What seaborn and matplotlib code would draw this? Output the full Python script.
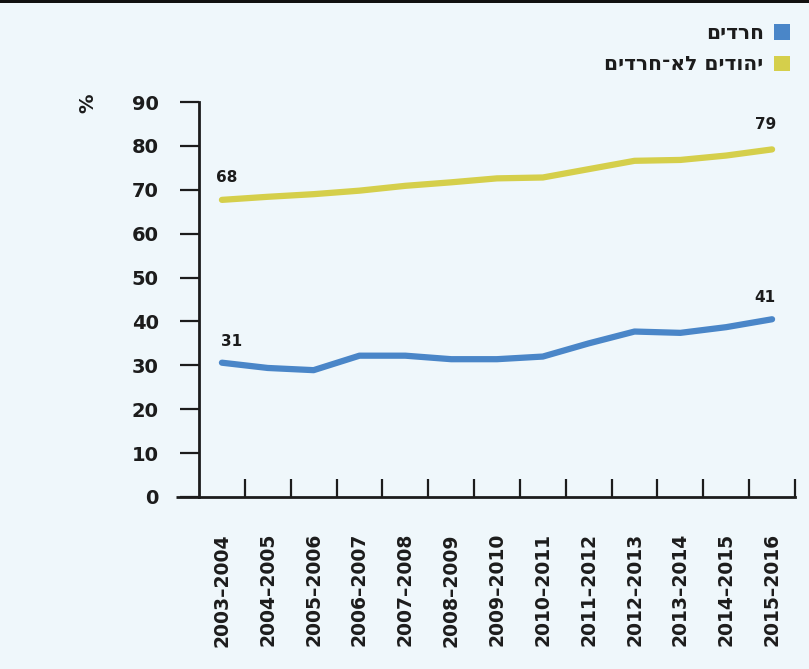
import pandas as pd
import seaborn as sns
import matplotlib.pyplot as plt
from matplotlib.patches import Patch, Rectangle

# school years (x categories)
years = ['2003–2004', '2004–2005', '2005–2006', '2006–2007', '2007–2008',
         '2008–2009', '2009–2010', '2010–2011', '2011–2012', '2012–2013',
         '2013–2014', '2014–2015', '2015–2016']

# series values (%)
haredi = [30.6, 29.4, 28.9, 32.2, 32.2, 31.4, 31.4, 32.0, 35.0, 37.7, 37.4, 38.7, 40.5]
non_haredi = [67.7, 68.4, 69.0, 69.8, 70.9, 71.7, 72.6, 72.8, 74.7, 76.6, 76.8, 77.8, 79.2]

series_names = ['חרדים', 'יהודים לא־חרדים']
colors = ['#4a86c8', '#d5cf4b']

# labels shown at the first and last points
first_labels = ['31', '68']
last_labels = ['41', '79']

yticks = [0, 10, 20, 30, 40, 50, 60, 70, 80, 90]


def vis(s):
    # matplotlib has no bidi, so Hebrew is drawn in visual order
    return s[::-1]


df = pd.concat([
    pd.DataFrame({'idx': range(len(years)), 'value': haredi, 'group': series_names[0]}),
    pd.DataFrame({'idx': range(len(years)), 'value': non_haredi, 'group': series_names[1]}),
])

sns.set_style('ticks')
plt.rcParams['font.family'] = ['DejaVu Sans', 'Noto Sans']
bg = '#eff7fb'
ink = '#1c1c1c'

fig = plt.figure(figsize=(8.09, 6.69), dpi=100, facecolor=bg)
ax = fig.add_axes([199 / 809, 172 / 669, 596 / 809, 395 / 669])
ax.set_facecolor(bg)

sns.lineplot(data=df, x='idx', y='value', hue='group', palette=colors,
             linewidth=4.5, solid_capstyle='round', legend=False, ax=ax)

ax.set_xlim(-0.5, len(years) - 0.5)
ax.set_ylim(0, 90)
ax.set_xlabel('')
ax.set_ylabel('')

# y axis
ax.set_yticks(yticks)
ax.set_yticklabels([str(t) for t in yticks], fontsize=14, fontweight='bold', color=ink)
ax.tick_params(axis='y', direction='out', length=14, width=1.6, pad=15, color=ink)

# x axis: labels at centers, ticks at category boundaries
ax.set_xticks(range(len(years)))
ax.set_xticklabels(years, rotation=90, fontsize=13.5, fontweight='bold', color=ink)
ax.tick_params(axis='x', which='major', length=0, pad=26)
ax.set_xticks([i + 0.5 for i in range(len(years))], minor=True)
ax.tick_params(axis='x', which='minor', direction='in', length=13, width=1.6, color=ink)

sns.despine(ax=ax, top=True, right=True)
for side in ['left', 'bottom']:
    ax.spines[side].set_linewidth(2)
    ax.spines[side].set_color(ink)
# bottom axis runs a little to the left of the y axis
ax.plot([-0.039, 0], [0, 0], transform=ax.transAxes, color=ink, lw=2,
        clip_on=False, solid_capstyle='butt')

# point labels
first_off = [(7, 10), (3.5, 10.5)]
last_off = [(-5, 10.5), (-5, 12.5)]
for vals, lab0, lab1, o0, o1 in zip([haredi, non_haredi], first_labels, last_labels,
                                    first_off, last_off):
    ax.annotate(lab0, (0, vals[0]), xytext=o0, textcoords='offset points',
                ha='center', va='bottom', fontsize=11, fontweight='bold', color=ink)
    ax.annotate(lab1, (len(years) - 1, vals[-1]), xytext=o1, textcoords='offset points',
                ha='center', va='bottom', fontsize=11, fontweight='bold', color=ink)

# percent sign
fig.text(88 / 809, 1 - 103 / 669, '%', rotation=90, ha='center', va='center',
         fontsize=14, fontweight='bold', color=ink)

# legend (marker on the right, text right-aligned)
handles = [Patch(facecolor=c, edgecolor='none') for c in colors]
fig.legend(handles, [vis(n) for n in series_names], loc='upper right',
           bbox_to_anchor=(808 / 809, 1 - 6 / 669), markerfirst=False, frameon=False,
           prop={'size': 14.5, 'weight': 'bold'}, handlelength=0.8, handleheight=0.8,
           handletextpad=0.5, labelspacing=0.6, labelcolor=ink)

# dark band along the top edge
fig.add_artist(Rectangle((0, 1 - 3 / 669), 1, 3 / 669, transform=fig.transFigure,
                         facecolor='#111111', edgecolor='none'))

fig.savefig('out.png', dpi=100, facecolor=bg)
